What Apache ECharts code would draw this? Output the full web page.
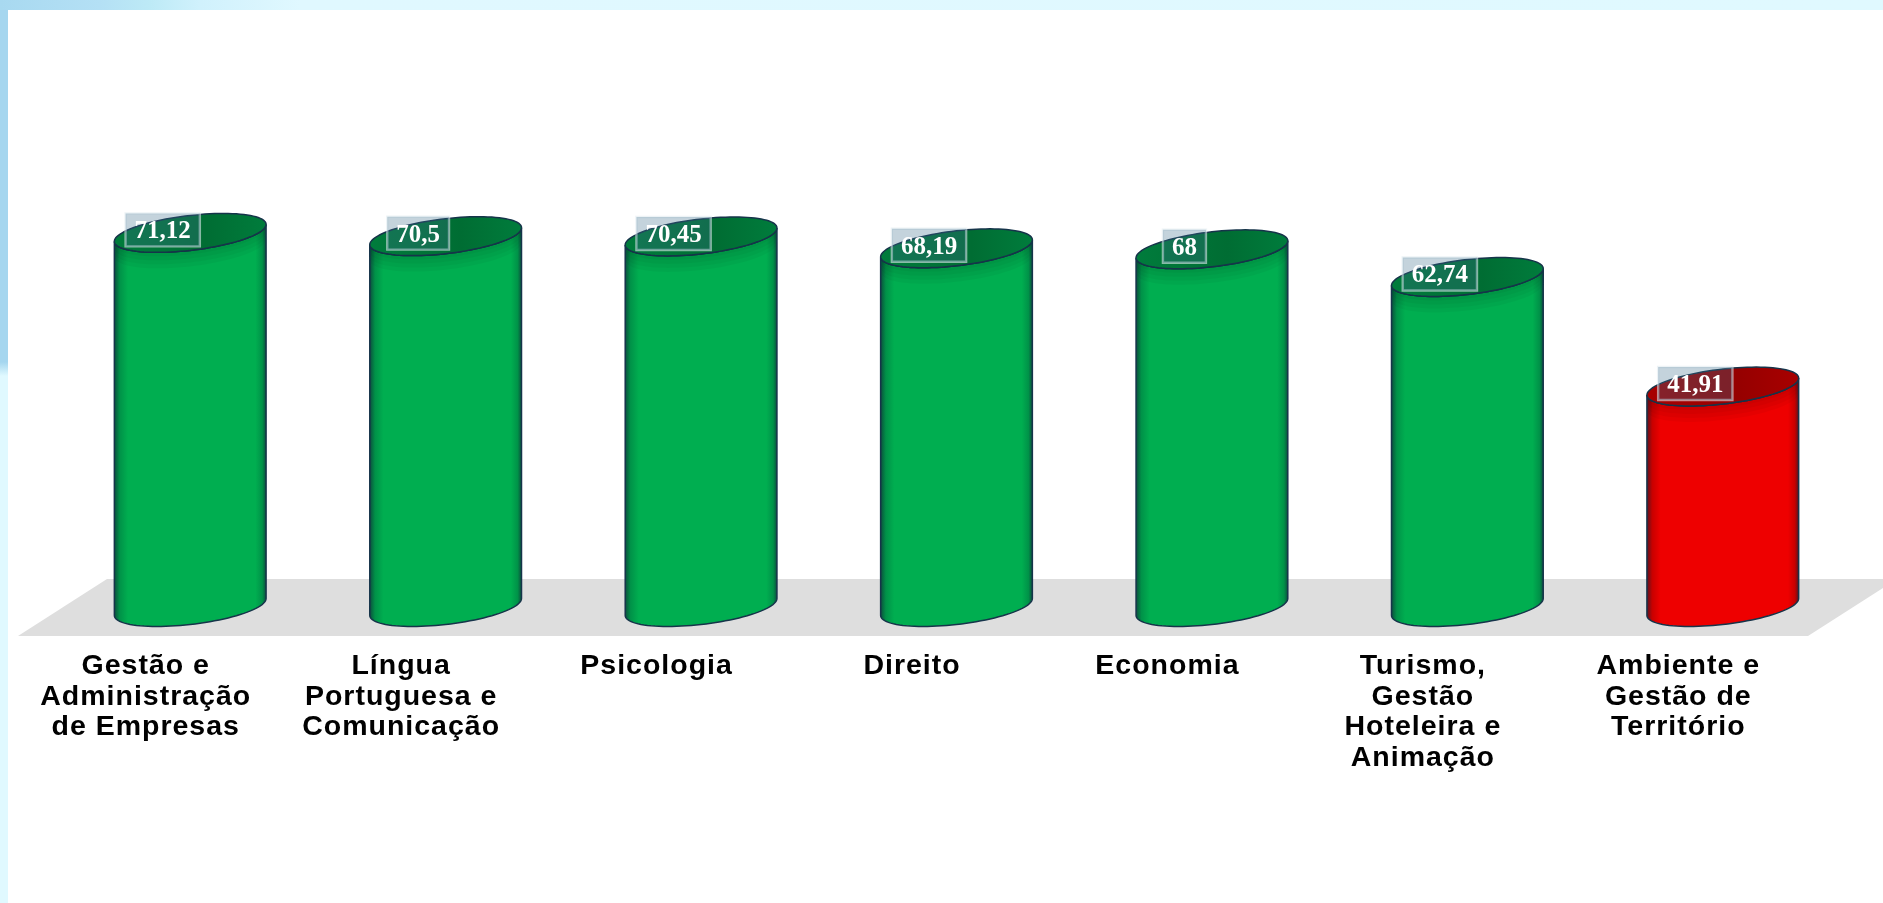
<!DOCTYPE html>
<html lang="pt">
<head>
<meta charset="utf-8">
<title>Cursos</title>
<style>
html,body{margin:0;padding:0;width:1883px;height:903px;overflow:hidden;background:#fff}
#bgTop{position:absolute;left:0;top:0;width:1883px;height:10px;background:linear-gradient(90deg,#a8d9f0 0,#b4e0f5 100px,#bdeaf6 150px,#d0f1fc 200px,#e0f8ff 300px,#e0f9ff 100%)}
#bgLeft{position:absolute;left:0;top:10px;width:8px;height:893px;background:linear-gradient(180deg,#a5d6ef 0,#a5d6ef 352px,#e0f9ff 366px,#e0f9ff 100%)}
#chart{position:absolute;left:0;top:0;width:1883px;height:903px;filter:blur(.7px)}
#chart text[fill="#010101"]{letter-spacing:1px}
</style>
</head>
<body>
<div id="bgTop"></div>
<div id="bgLeft"></div>
<div id="chart"></div>
<script src="https://cdn.jsdelivr.net/npm/echarts@6/dist/echarts.min.js"></script>
<script>
const categories = [
  'Gestão e\nAdministração\nde Empresas',
  'Língua\nPortuguesa e\nComunicação',
  'Psicologia',
  'Direito',
  'Economia',
  'Turismo,\nGestão\nHoteleira e\nAnimação',
  'Ambiente e\nGestão de\nTerritório'
];
const scores = [71.12, 70.5, 70.45, 68.19, 68, 62.74, 41.91];
const lowScoreLimit = 50;

const depthX = 44.5, depthY = -29;
const shear = 8.5, minor = 17.5;

const palette = {
  good: {edge: '#0c4f3e', mid: '#009248', body: '#00ae50', top: '#007c3c', topDark: '#006d33'},
  low:  {edge: '#5a1420', mid: '#c80000', body: '#ee0000', top: '#a80000', topDark: '#960000'}
};

function arc(cx, cy, a, from, to, n) {
  const pts = [];
  for (let i = 0; i <= n; i++) {
    const t = from + (to - from) * i / n;
    pts.push([cx + a * Math.cos(t), cy + minor * Math.sin(t) - shear * Math.cos(t)]);
  }
  return pts;
}

function renderCylinder(params, api) {
  const idx = api.value(0), v = api.value(1);
  const base = api.coord([idx, 0]);
  const top = api.coord([idx, v]);
  const a = api.size([1, 0])[0] * 0.297;
  const cx = base[0] + depthX;
  const yB = base[1] + depthY, yT = top[1] + depthY;
  const c = v < lowScoreLimit ? palette.low : palette.good;
  const stroke = '#16344a';
  const side = arc(cx, yB, a, Math.PI, 0, 48).concat(arc(cx, yT, a, 0, Math.PI, 48));
  const shade = [4, 8, 12, 16].map(d => ({
    type: 'polygon',
    shape: {points: arc(cx, yT + d, a - 1, 0, Math.PI, 48).concat(arc(cx, yT, a - 1, Math.PI, 0, 48))},
    style: {fill: 'rgba(0,0,0,.035)'}
  }));
  return {
    type: 'group',
    children: [
      {type: 'polygon', shape: {points: side}, style: {
        fill: new echarts.graphic.LinearGradient(0, 0, 1, 0, [
          {offset: 0, color: c.edge}, {offset: .035, color: c.mid}, {offset: .09, color: c.body},
          {offset: .93, color: c.body}, {offset: .975, color: c.mid}, {offset: 1, color: c.edge}
        ]), stroke: stroke, lineWidth: 1.5}}
    ].concat(shade, [
      {type: 'polygon', shape: {points: arc(cx, yT, a, 0, Math.PI * 2, 96)}, style: {
        fill: new echarts.graphic.LinearGradient(0, 0, 1, 0, [
          {offset: 0, color: c.top}, {offset: .6, color: c.topDark}, {offset: 1, color: c.top}
        ]), stroke: stroke, lineWidth: 1.5}},
      {type: 'text', x: cx - 27.5, y: yT - 3, style: {
        text: String(v).replace('.', ','),
        font: 'bold 25px "Liberation Serif"',
        fill: '#ffffff', align: 'center', verticalAlign: 'middle',
        backgroundColor: 'rgba(60,110,140,.3)',
        borderColor: 'rgba(225,235,240,.6)', borderWidth: 1.2,
        padding: [4, 9, 4, 9]
      }}
    ])
  };
}

const chart = echarts.init(document.getElementById('chart'), null, {renderer: 'svg', width: 1883, height: 903});
chart.setOption({
  animation: false,
  backgroundColor: 'transparent',
  graphic: [{
    type: 'polygon', z: 0, silent: true,
    shape: {points: [[18, 636], [1808, 636], [1897, 579], [107, 579]]},
    style: {fill: '#dedede'}
  }],
  grid: {left: 18, top: 110, width: 1788, height: 526},
  xAxis: {
    type: 'category', data: categories,
    axisLine: {show: false}, axisTick: {show: false},
    axisLabel: {
      interval: 0, margin: 13, hideOverlap: false, verticalAlign: 'top',
      color: '#010101', fontFamily: '"Liberation Sans"', fontWeight: 'bold', fontSize: 28.5, lineHeight: 30.5
    }
  },
  yAxis: {type: 'value', min: 0, max: 100, show: false, splitLine: {show: false}},
  series: [{
    type: 'custom', z: 3,
    renderItem: renderCylinder,
    encode: {x: 0, y: 1},
    data: scores.map((v, i) => [i, v])
  }]
});
</script>
</body>
</html>
